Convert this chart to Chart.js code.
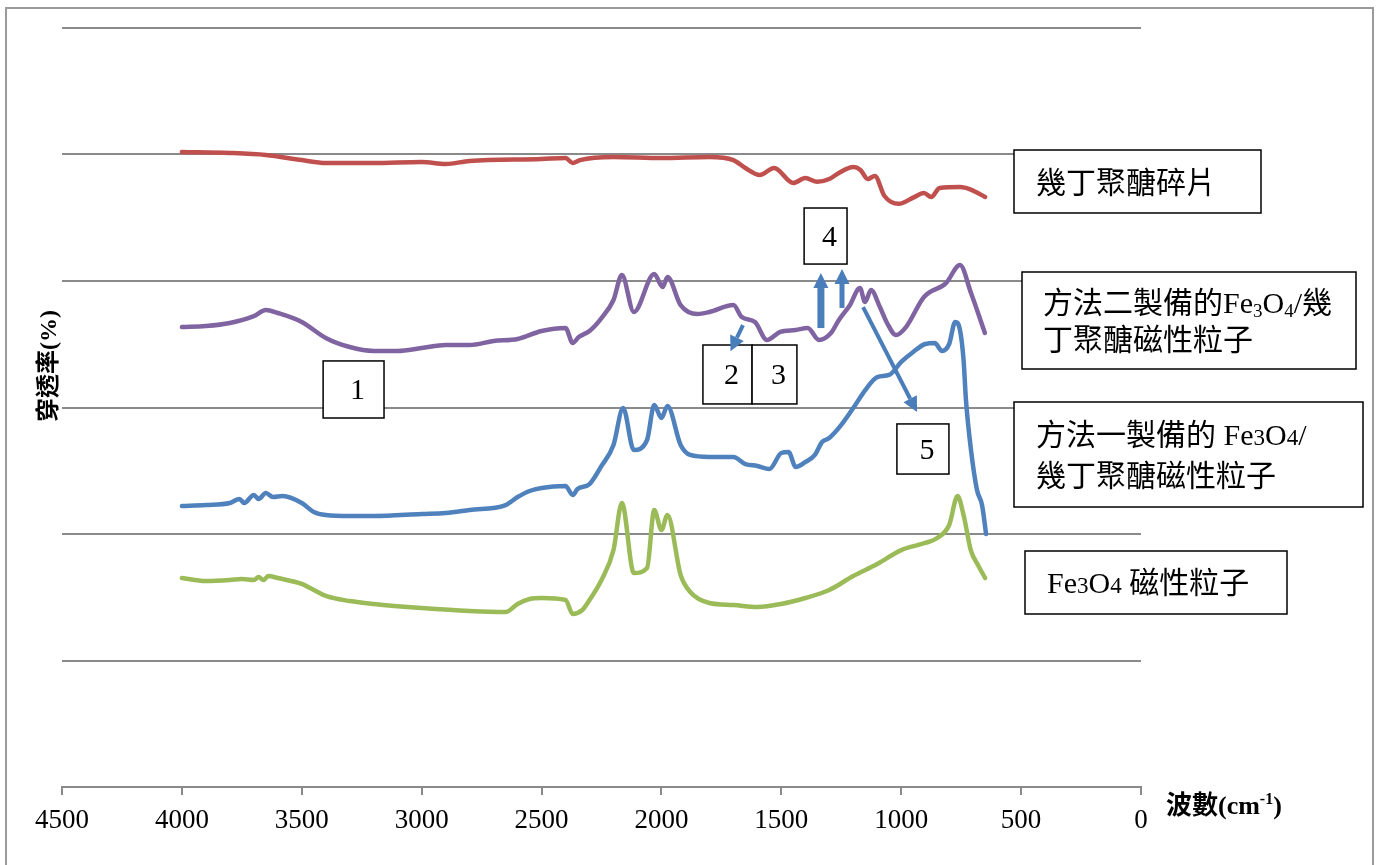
<!DOCTYPE html>
<html>
<head>
<meta charset="utf-8">
<script src="https://cdn.jsdelivr.net/npm/chart.js@4.4.1/dist/chart.umd.min.js"></script>
<style>
  html, body { margin: 0; padding: 0; background: #fff; }
</style>
</head>
<body>
<canvas id="ftir" width="1381" height="865"></canvas>
<script>
// 波數 (cm-1) 與穿透率 (相對刻度, 已位移)
const chitosanWn = [4000,3800,3650,3500,3400,3200,3000,2900,2800,2500,2400,2370,2340,2200,2000,1800,1700,1650,1590,1530,1450,1400,1350,1300,1260,1200,1170,1140,1110,1070,1010,950,905,875,840,755,710,650];
const chitosanT = [502.0,501.2,499.6,495.6,493.3,493.3,494.1,492.5,494.9,496.5,497.3,493.3,495.6,498.1,497.3,498.1,495.6,489.3,483.8,489.3,477.5,481.4,478.4,480.6,485.4,490.1,487.8,480.6,483.0,467.2,461.0,465.9,469.6,466.4,473.5,474.3,472.3,466.4];

const method2Wn = [4000,3900,3800,3700,3650,3600,3500,3400,3300,3200,3100,3000,2900,2800,2700,2600,2500,2400,2370,2345,2300,2250,2200,2165,2115,2030,1995,1975,1920,1850,1800,1700,1665,1610,1560,1505,1440,1390,1343,1293,1260,1215,1172,1151,1126,1089,1059,1022,980,905,813,755,709,651];
const method2T = [363.6,364.4,366.8,372.3,377.1,374.7,367.6,355.0,347.8,344.7,344.7,347.0,349.4,349.4,352.6,354.2,360.5,362.9,351.0,355.7,360.5,370.7,385.0,404.7,375.5,405.5,395.3,403.2,381.0,373.9,375.5,381.0,371.5,367.6,353.4,359.7,361.3,362.8,353.4,358.9,369.2,380.7,394.5,383.4,392.9,379.4,366.8,357.3,363.6,387.4,398.4,412.6,390.5,358.9];

const method1Wn = [4000,3900,3800,3760,3740,3700,3680,3650,3620,3580,3500,3450,3400,3300,3200,3000,2900,2800,2650,2600,2550,2500,2400,2370,2350,2300,2250,2200,2160,2115,2060,2030,2000,1975,1920,1880,1800,1700,1650,1600,1550,1500,1470,1440,1400,1360,1330,1300,1250,1200,1150,1100,1050,1000,950,900,860,830,800,775,755,740,730,709,684,663,646];
const method1T = [222.1,222.9,224.5,227.7,224.5,230.8,227.7,232.4,229.2,230.0,224.5,217.4,215.0,214.2,214.2,215.8,216.6,219.0,222.9,229.2,234.0,236.4,237.9,230.8,235.6,239.5,253.8,270.4,299.6,266.4,274.3,302.0,291.7,301.2,270.4,262.5,260.9,260.9,255.3,253.8,251.4,264.0,264.8,253.0,256.9,262.5,272.7,275.9,286.2,299.6,313.8,324.1,325.7,336.0,343.9,350.2,351.0,344.7,350.2,367.6,361.3,337.6,305.9,266.4,234.8,222.9,200.0];

const fe3o4Wn = [4000,3900,3800,3750,3700,3680,3660,3640,3600,3500,3450,3400,3300,3200,3000,2800,2650,2600,2550,2500,2400,2370,2330,2300,2250,2200,2165,2115,2060,2030,2000,1975,1920,1880,1800,1700,1600,1500,1400,1300,1200,1100,1000,900,850,800,765,740,710,680,650];
const fe3o4T = [165.2,162.8,163.6,164.4,163.6,166.0,163.6,166.8,165.2,160.5,155.7,151.0,147.0,144.7,141.5,139.1,138.3,144.7,148.6,149.4,147.8,136.8,139.9,147.8,163.6,187.3,224.5,169.2,173.1,219.0,203.2,215.0,167.6,154.2,145.5,143.9,142.3,144.7,149.4,155.7,166.8,176.3,187.3,192.9,196.8,207.1,230.0,215.0,187.3,175.5,165.2];

const xTicks = [4500, 4000, 3500, 3000, 2500, 2000, 1500, 1000, 500, 0];

// 峰值標註 (數據座標)
const peakBoxes = [
    { label: '1', wn: [3411, 3157], t: [336.8, 291.7] },
    { label: '2', wn: [1827, 1622], t: [349.4, 302.8] },
    { label: '3', wn: [1622, 1435], t: [349.4, 302.8] },
    { label: '4', wn: [1405, 1226], t: [457.7, 413.4] },
    { label: '5', wn: [1018, 801], t: [287.0, 247.4] }
];
const arrows = [
    { from: [1660, 365.2], to: [1712, 344.5], w: 4 },
    { from: [1335, 362.8], to: [1335, 406.3], w: 7 },
    { from: [1247, 378.7], to: [1247, 409.5], w: 5 },
    { from: [1159, 379.4], to: [934, 296.4], w: 4 }
];

const LABEL_FONT = '"Liberation Serif", "Noto Sans CJK TC"';

function toPoints(wn, t) {
    return wn.map((w, i) => ({ x: w, y: t[i] }));
}

function series(label, wn, t, color) {
    return {
        label,
        data: toPoints(wn, t),
        borderColor: color,
        backgroundColor: color,
        borderWidth: 4.5,
        pointRadius: 0,
        cubicInterpolationMode: 'monotone',
        borderCapStyle: 'round',
        borderJoinStyle: 'round',
        fill: false
    };
}

// parts: 字串 或 { s, k(字級比例), dy(位移), bold }
function richText(ctx, parts, x, y, size) {
    let cx = x;
    for (const p of parts) {
        const o = typeof p === 'string' ? { s: p, k: 1 } : p;
        const sz = Math.round(size * (o.k || 0.62));
        ctx.font = `${o.bold === true ? 'bold ' : ''}${sz}px ${LABEL_FONT}`;
        ctx.fillText(o.s, cx, y + (o.dy || 0) * size);
        cx += ctx.measureText(o.s).width;
    }
}

function drawArrow(ctx, x1, y1, x2, y2, w) {
    const a = Math.atan2(y2 - y1, x2 - x1);
    const hl = 15, hw = 7.5;
    const bx = x2 - hl * Math.cos(a), by = y2 - hl * Math.sin(a);
    ctx.lineWidth = w;
    ctx.lineCap = 'butt';
    ctx.beginPath();
    ctx.moveTo(x1, y1);
    ctx.lineTo(bx, by);
    ctx.stroke();
    ctx.beginPath();
    ctx.moveTo(x2, y2);
    ctx.lineTo(bx + hw * Math.sin(a), by - hw * Math.cos(a));
    ctx.lineTo(bx - hw * Math.sin(a), by + hw * Math.cos(a));
    ctx.closePath();
    ctx.fill();
}

const legendBoxes = [
    { rect: [1014, 150, 247, 63], lines: [[['幾丁聚醣碎片'], 1036, 193]] },
    { rect: [1022, 272, 334, 97], lines: [
        [['方法二製備的Fe', { s: '3', dy: 0.14 }, 'O', { s: '4', dy: 0.14 }, '/幾'], 1043, 313],
        [['丁聚醣磁性粒子'], 1043, 350]
    ] },
    { rect: [1014, 402, 349, 105], lines: [
        [['方法一製備的 Fe', { s: '3', k: 0.75 }, 'O', { s: '4', k: 0.75 }, '/'], 1036, 445],
        [['幾丁聚醣磁性粒子'], 1036, 486]
    ] },
    { rect: [1025, 551, 262, 63], lines: [[['Fe', { s: '3', k: 0.75 }, 'O', { s: '4', k: 0.75 }, ' 磁性粒子'], 1047, 593]] }
];

const decor = {
    id: 'decor',
    beforeDraw(chart) {
        const { ctx } = chart;
        ctx.save();
        ctx.fillStyle = '#fff';
        ctx.fillRect(0, 0, chart.width, chart.height);
        ctx.restore();
    },
    afterDraw(chart) {
        const { ctx, scales: { x, y } } = chart;
        ctx.save();

        // 外框
        ctx.strokeStyle = '#9a9a9a';
        ctx.lineWidth = 2;
        ctx.strokeRect(6, 8, 1367, 900);

        // 峰值編號方框
        ctx.lineWidth = 1.5;
        ctx.strokeStyle = '#000';
        ctx.textBaseline = 'middle';
        ctx.textAlign = 'center';
        peakBoxes.forEach(b => {
            const l = x.getPixelForValue(b.wn[0]), r = x.getPixelForValue(b.wn[1]);
            const t = y.getPixelForValue(b.t[0]), bt = y.getPixelForValue(b.t[1]);
            ctx.fillStyle = '#fff';
            ctx.fillRect(l, t, r - l, bt - t);
            ctx.strokeRect(l, t, r - l, bt - t);
            ctx.fillStyle = '#000';
            ctx.font = `30px ${LABEL_FONT}`;
            ctx.fillText(b.label, (l + r) / 2 + 4, (t + bt) / 2 + 2);
        });

        // 箭頭
        ctx.strokeStyle = '#4a7ebb';
        ctx.fillStyle = '#4a7ebb';
        arrows.forEach(a => {
            drawArrow(ctx,
                x.getPixelForValue(a.from[0]), y.getPixelForValue(a.from[1]),
                x.getPixelForValue(a.to[0]), y.getPixelForValue(a.to[1]), a.w);
        });

        // 圖例方框
        ctx.textAlign = 'left';
        ctx.textBaseline = 'alphabetic';
        legendBoxes.forEach(b => {
            const [bx, by, bw, bh] = b.rect;
            ctx.fillStyle = '#fff';
            ctx.fillRect(bx, by, bw, bh);
            ctx.strokeStyle = '#000';
            ctx.lineWidth = 1.5;
            ctx.strokeRect(bx, by, bw, bh);
            ctx.fillStyle = '#000';
            b.lines.forEach(([parts, lx, ly]) => richText(ctx, parts, lx, ly, 30));
        });

        // 軸標題
        ctx.fillStyle = '#000';
        richText(ctx, [{ s: '波數(cm', k: 1, bold: true }, { s: '-1', k: 0.6, dy: -0.38, bold: true }, { s: ')', k: 1, bold: true }], 1166, 814, 26);

        ctx.save();
        ctx.translate(50, 366);
        ctx.rotate(-Math.PI / 2);
        ctx.textAlign = 'center';
        ctx.textBaseline = 'middle';
        ctx.font = `bold 24px ${LABEL_FONT}`;
        ctx.fillText('穿透率(%)', 0, 0);
        ctx.restore();

        ctx.restore();
    }
};

const ctx = document.getElementById('ftir').getContext('2d');
new Chart(ctx, {
    type: 'line',
    data: {
        datasets: [
            series('幾丁聚醣碎片', chitosanWn, chitosanT, '#c0504d'),
            series('方法二製備的Fe3O4/幾丁聚醣磁性粒子', method2Wn, method2T, '#8064a2'),
            series('方法一製備的Fe3O4/幾丁聚醣磁性粒子', method1Wn, method1T, '#4f81bd'),
            series('Fe3O4磁性粒子', fe3o4Wn, fe3o4T, '#9bbb59')
        ]
    },
    options: {
        responsive: false,
        animation: false,
        layout: { padding: { left: 62, right: 240, top: 28, bottom: 0 } },
        plugins: {
            legend: { display: false },
            tooltip: { enabled: false }
        },
        scales: {
            x: {
                type: 'linear',
                reverse: true,
                min: 0,
                max: 4500,
                afterBuildTicks: s => { s.ticks = xTicks.map(v => ({ value: v })); },
                ticks: {
                    autoSkip: false,
                    maxRotation: 0,
                    padding: 10,
                    color: '#000',
                    font: { family: 'Liberation Serif', size: 27 },
                    callback: v => String(v)
                },
                grid: { display: true, drawOnChartArea: false, drawTicks: true, tickLength: 8, color: '#8a8a8a', lineWidth: 2 },
                border: { display: true, color: '#8a8a8a', width: 2 },
                afterFit: s => { s.height = 78; }
            },
            y: {
                min: 0,
                max: 600,
                ticks: { stepSize: 100, display: false },
                grid: { color: '#8a8a8a', lineWidth: 2, drawTicks: false },
                border: { display: false },
                afterFit: s => { s.width = 0; }
            }
        }
    },
    plugins: [decor]
});
</script>
</body>
</html>
